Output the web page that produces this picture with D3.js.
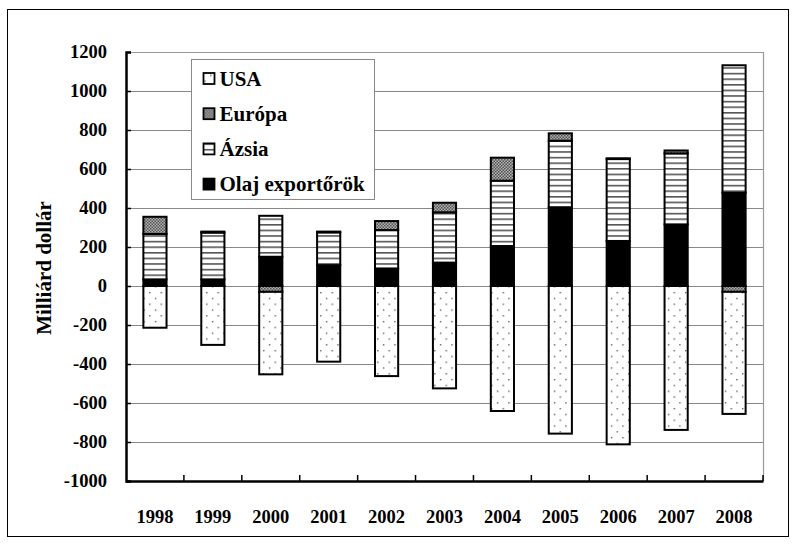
<!DOCTYPE html>
<meta charset="utf-8">
<style>
body { margin: 0; background: #fff; }
text { font-family: "Times New Roman", "Liberation Serif", serif; font-weight: bold; fill: #000; }
</style>
<svg width="797" height="545"></svg>
<script src="https://d3js.org/d3.v7.min.js"></script>
<script>

var years = ["1998", "1999", "2000", "2001", "2002", "2003", "2004", "2005", "2006", "2007", "2008"];
var usa    = [-214, -302, -423, -388, -462, -525, -641, -757, -812, -738, -626];
var europa = [88, 5, -30, 4, 46, 49, 118, 38, 4, 15, -30];
var azsia  = [233, 240, 210, 168, 197, 258, 335, 341, 420, 364, 653];
var olaj   = [34, 34, 150, 107, 90, 120, 205, 404, 231, 316, 479];
var yTicks = [-1000, -800, -600, -400, -200, 0, 200, 400, 600, 800, 1000, 1200];

// stack order bottom-up: oil, Asia, Europe, USA (legend is reversed)
var keys = ["olaj", "azsia", "europa", "usa"];
var legendItems = [
  {key: "usa", label: "USA"},
  {key: "europa", label: "Európa"},
  {key: "azsia", label: "Ázsia"},
  {key: "olaj", label: "Olaj exportőrök"}
];

var rows = years.map(function(y, i) {
  return {year: y, usa: usa[i], europa: europa[i], azsia: azsia[i], olaj: olaj[i]};
});

var svg = d3.select("svg");

var plotL = 126, plotR = 763, plotT = 52, plotB = 481;

var x = d3.scaleBand().domain(years).range([plotL, plotR]).paddingInner(0.6).paddingOuter(0.3);
var y = d3.scaleLinear().domain([-1000, 1200]).range([plotB, plotT]);

// patterns
var defs = svg.append("defs");
var pUsa = defs.append("pattern").attr("id", "p-usa").attr("patternUnits", "userSpaceOnUse")
    .attr("width", 11.4).attr("height", 11.6);
pUsa.append("rect").attr("width", 11.4).attr("height", 11.6).attr("fill", "#fff");
pUsa.append("rect").attr("x", 1).attr("y", 2).attr("width", 1.3).attr("height", 1.3).attr("fill", "#444");
pUsa.append("rect").attr("x", 6.7).attr("y", 7.8).attr("width", 1.3).attr("height", 1.3).attr("fill", "#444");

var pEu = defs.append("pattern").attr("id", "p-europa").attr("patternUnits", "userSpaceOnUse")
    .attr("width", 3).attr("height", 3);
pEu.append("rect").attr("width", 3).attr("height", 3).attr("fill", "#b0b0b0");
pEu.append("rect").attr("width", 1.5).attr("height", 1.5).attr("fill", "#555");
pEu.append("rect").attr("x", 1.5).attr("y", 1.5).attr("width", 1.5).attr("height", 1.5).attr("fill", "#555");

var pAs = defs.append("pattern").attr("id", "p-azsia").attr("patternUnits", "userSpaceOnUse")
    .attr("width", 6).attr("height", 5.6);
pAs.append("rect").attr("width", 6).attr("height", 5.6).attr("fill", "#fff");
pAs.append("rect").attr("y", 0).attr("width", 6).attr("height", 1.6).attr("fill", "#555");

var fills = {usa: "url(#p-usa)", europa: "url(#p-europa)", azsia: "url(#p-azsia)", olaj: "#000"};

// outer frame
svg.append("rect").attr("x", 7.5).attr("y", 9.5).attr("width", 781).attr("height", 527)
    .attr("fill", "none").attr("stroke", "#000").attr("stroke-width", 1);

// gridlines
svg.append("g").selectAll("line").data(yTicks).enter().append("line")
    .attr("x1", plotL).attr("x2", plotR)
    .attr("y1", function(d) { return y(d) + 0.5; }).attr("y2", function(d) { return y(d) + 0.5; })
    .attr("stroke", "#888").attr("stroke-width", 1);

// plot area top/right border
svg.append("path").attr("d", "M" + plotL + "," + (plotT + 0.5) + "H" + (plotR + 0.5) + "V" + plotB)
    .attr("fill", "none").attr("stroke", "#999").attr("stroke-width", 1.2);

// bars
var series = d3.stack().keys(keys).offset(d3.stackOffsetDiverging)(rows);

svg.append("g").selectAll("g").data(series).enter().append("g")
    .attr("fill", function(d) { return fills[d.key]; })
  .selectAll("rect").data(function(d) { return d; }).enter().append("rect")
    .attr("x", function(d) { return x(d.data.year); })
    .attr("width", x.bandwidth())
    .attr("y", function(d) { return y(Math.max(d[0], d[1])); })
    .attr("height", function(d) { return Math.abs(y(d[0]) - y(d[1])); })
    .attr("stroke", "#000").attr("stroke-width", 2);

// axes
var yAxis = svg.append("g").attr("transform", "translate(" + plotL + ",0)")
    .call(d3.axisLeft(y).tickValues(yTicks).tickSize(-5).tickPadding(19)
      .tickFormat(function(d) { return String(d); }));
yAxis.select(".domain").attr("stroke-width", 2.5);
yAxis.selectAll(".tick line").attr("stroke-width", 1.5);
yAxis.selectAll("text").attr("font-size", 18.5).attr("font-family", null);

var xAxis = svg.append("g").attr("transform", "translate(0," + plotB + ")")
    .call(d3.axisBottom(x).tickSize(0).tickPadding(29));
xAxis.select(".domain").attr("stroke-width", 2.5);
xAxis.selectAll("text").attr("font-size", 18.5).attr("font-family", null);

// category boundary ticks (pointing into the plot)
var step = x.step();
var bounds = years.map(function(d, i) { return plotL + step * (i + 1); });
svg.append("g").selectAll("line").data(bounds).enter().append("line")
    .attr("x1", function(d) { return d; }).attr("x2", function(d) { return d; })
    .attr("y1", plotB).attr("y2", plotB - 6)
    .attr("stroke", "#000").attr("stroke-width", 1.5);

// y axis title
svg.append("text")
    .attr("transform", "translate(51,268) rotate(-90)")
    .attr("text-anchor", "middle")
    .attr("font-size", 21)
    .text("Milliárd dollár");

// legend
var lg = svg.append("g");
lg.append("rect").attr("x", 191.5).attr("y", 59.5).attr("width", 183).attr("height", 140)
    .attr("fill", "#fff").attr("stroke", "#888").attr("stroke-width", 1);

var item = lg.selectAll("g.item").data(legendItems).enter().append("g")
    .attr("class", "item")
    .attr("transform", function(d, i) { return "translate(203.5," + (78.5 + i * 35.2) + ")"; });
item.append("rect").attr("x", 0).attr("y", -5.5).attr("width", 11).attr("height", 11)
    .attr("fill", function(d) { return fills[d.key]; })
    .attr("stroke", "#000").attr("stroke-width", 1.8);
item.append("text").attr("x", 16).attr("y", 7).attr("font-size", 21)
    .text(function(d) { return d.label; });

</script>
